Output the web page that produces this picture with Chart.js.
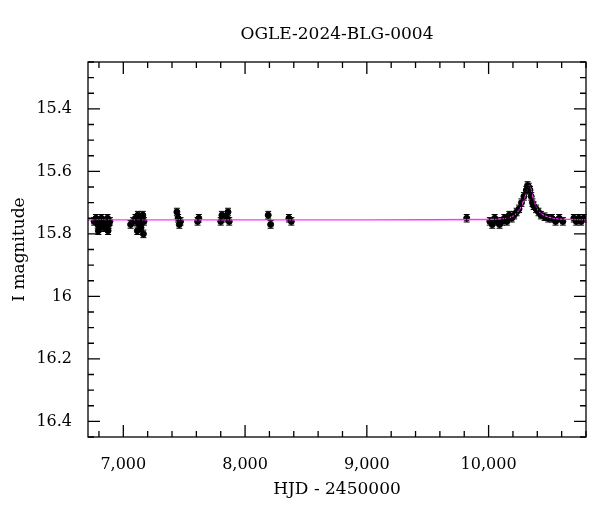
<!DOCTYPE html>
<html><head><meta charset="utf-8">
<script src="https://cdn.jsdelivr.net/npm/chart.js@4/dist/chart.umd.min.js"></script>
<style>body{margin:0;background:#fff}#wrap{width:600px;height:512px}</style>
</head><body><div id="wrap"><canvas id="c"></canvas></div>
<script>
const TITLE = 'OGLE-2024-BLG-0004';
const xTicks = [7000, 8000, 9000, 10000];
const yTicks = [15.4, 15.6, 15.8, 16, 16.2, 16.4];

// photometry (HJD-2450000, I mag, error)
const obsX = [6760,6775,6790,6800,6810,6820,6830,6840,6850,6860,6870,6880,6890,6795,6845,6875,
  7060,7080,7100,7110,7120,7130,7140,7150,7160,7170,7115,7145,7165,
  7440,7450,7460,7470,7610,7620,7800,7810,7850,7860,7870,8190,8210,8360,8380,
  9820,10010,10030,10050,10070,10090,10110,10130,10150,10170,10190,10210,10230,10250,10270,10290,
  10310,10320,10330,10340,10350,10360,10370,10390,10410,10430,10460,10490,10520,10550,10580,10610,
  10700,10720,10740,10760,10780];
const obsY = [15.76,15.75,15.77,15.76,15.78,15.75,15.77,15.76,15.78,15.76,15.75,15.77,15.76,15.79,15.78,15.79,
  15.77,15.76,15.75,15.76,15.74,15.77,15.75,15.76,15.74,15.76,15.79,15.78,15.80,
  15.73,15.75,15.77,15.76,15.76,15.75,15.76,15.74,15.75,15.73,15.76,15.74,15.77,15.75,15.76,
  15.75,15.76,15.77,15.75,15.76,15.77,15.76,15.75,15.76,15.74,15.75,15.74,15.73,15.72,15.70,15.68,
  15.66,15.645,15.65,15.66,15.68,15.70,15.71,15.72,15.73,15.74,15.745,15.75,15.75,15.76,15.75,15.76,
  15.75,15.76,15.75,15.76,15.75];
const obsErr = obsX.map(() => 0.012);

// model curve
const modelX = [6700,9000,10000,10100,10180,10230,10270,10300,10320,10335,10350,10370,10400,10440,10500,10600,10800];
const modelY = [15.755,15.755,15.754,15.752,15.747,15.735,15.71,15.68,15.655,15.645,15.66,15.69,15.72,15.737,15.747,15.753,15.755];

const SERIF = '"DejaVu Serif", "Liberation Serif", serif';

const framePlugin = {
  id: 'frame',
  afterDraw(chart) {
    const ctx = chart.ctx, a = chart.chartArea, xs = chart.scales.x, ys = chart.scales.y;
    ctx.save();
    ctx.strokeStyle = '#000'; ctx.lineWidth = 1.3;
    ctx.strokeRect(a.left, a.top, a.right - a.left, a.bottom - a.top);
    ctx.beginPath();
    for (let v = 6800; v <= 10800; v += 200) {
      const p = xs.getPixelForValue(v), L = v % 1000 === 0 ? 12 : 6;
      if (p < a.left || p > a.right) continue;
      ctx.moveTo(p, a.bottom); ctx.lineTo(p, a.bottom - L);
      ctx.moveTo(p, a.top); ctx.lineTo(p, a.top + L);
    }
    for (let i = 0; i <= 24; i++) {
      const v = 15.25 + i * 0.05, p = ys.getPixelForValue(v);
      const major = Math.abs(Math.round(v * 5) - v * 5) < 1e-6;
      const L = major ? 12 : 6;
      ctx.moveTo(a.left, p); ctx.lineTo(a.left + L, p);
      ctx.moveTo(a.right, p); ctx.lineTo(a.right - L, p);
    }
    ctx.stroke();
    ctx.fillStyle = '#000'; ctx.textAlign = 'center'; ctx.textBaseline = 'middle';
    ctx.font = '17px ' + SERIF;
    ctx.fillText(TITLE, (a.left + a.right) / 2, 35);
    ctx.fillText('HJD - 2450000', (a.left + a.right) / 2, 490);
    ctx.translate(20, (a.top + a.bottom) / 2); ctx.rotate(-Math.PI / 2);
    ctx.fillText('I magnitude', 0, 0);
    ctx.restore();
  },
  afterDatasetsDraw(chart) {
    const ctx = chart.ctx, xs = chart.scales.x, ys = chart.scales.y;
    ctx.save();
    ctx.strokeStyle = '#000'; ctx.lineWidth = 1;
    ctx.beginPath();
    obsX.forEach((x, i) => {
      const px = xs.getPixelForValue(x);
      const y1 = ys.getPixelForValue(obsY[i] - obsErr[i]), y2 = ys.getPixelForValue(obsY[i] + obsErr[i]);
      ctx.moveTo(px, y1); ctx.lineTo(px, y2);
      ctx.moveTo(px - 3, y1); ctx.lineTo(px + 3, y1);
      ctx.moveTo(px - 3, y2); ctx.lineTo(px + 3, y2);
    });
    ctx.stroke();
    ctx.restore();
  }
};

new Chart(document.getElementById('c'), {
  type: 'scatter',
  data: { datasets: [
    { data: obsX.map((x, i) => ({ x, y: obsY[i] })), backgroundColor: '#000', borderColor: '#000', pointRadius: 3, order: 2 },
    { type: 'line', data: modelX.map((x, i) => ({ x, y: modelY[i] })), borderColor: '#ff33ff', borderWidth: 1.3, pointRadius: 0, tension: 0.4, order: 1 }
  ]},
  options: {
    responsive: true, maintainAspectRatio: false, animation: false,
    layout: { padding: { top: 62, right: 14, left: 0, bottom: 0 } },
    plugins: { legend: { display: false }, tooltip: { enabled: false } },
    scales: {
      x: { type: 'linear', min: 6710, max: 10800,
        grid: { display: false }, border: { display: false },
        afterBuildTicks: s => { s.ticks = xTicks.map(v => ({ value: v })); },
        afterFit: s => { s.height = 75; },
        ticks: { color: '#000', font: { family: SERIF, size: 16 }, padding: 10, maxRotation: 0 } },
      y: { reverse: true, min: 15.25, max: 16.45,
        grid: { display: false }, border: { display: false },
        afterBuildTicks: s => { s.ticks = yTicks.map(v => ({ value: v })); },
        afterFit: s => { s.width = 88; },
        ticks: { color: '#000', font: { family: SERIF, size: 16 }, padding: 8,
          callback: v => String(+Number(v).toFixed(1)) } }
    }
  },
  plugins: [framePlugin]
});
</script></body></html>
